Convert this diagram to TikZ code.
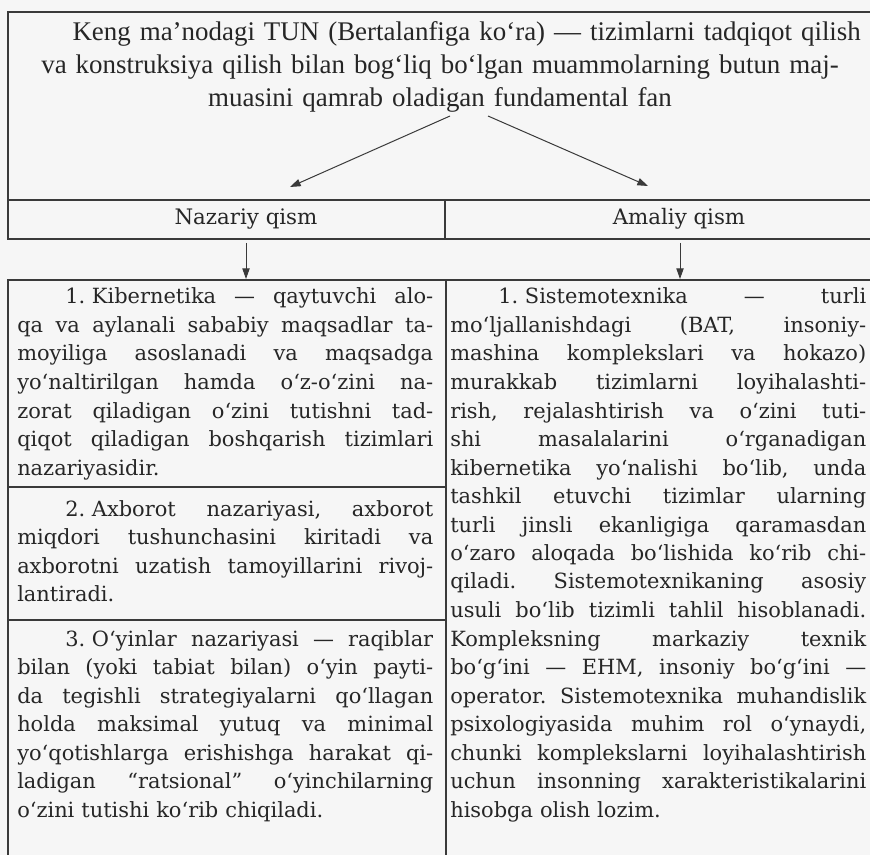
\documentclass[tikz,border=0pt]{standalone}
\usepackage{fontspec}
\setmainfont{DejaVu Serif}
\newfontfamily\topfont{Liberation Serif}
\usetikzlibrary{arrows.meta}
\definecolor{ink}{HTML}{262626}
\definecolor{rulec}{HTML}{3A3A3A}
\definecolor{bg}{HTML}{F6F6F6}
\newdimen\colw
\colw=312pt
\newcommand\jsp{\frenchspacing\spaceskip=0.3em plus 3em minus 0.1em\relax}
\newcommand\num[1]{#1\kern0.32em}
\newcommand\firstln[1]{\hbox to\colw{\jsp\hskip36pt #1}}
\newcommand\midln[1]{\hbox to\colw{\jsp #1}}
\newcommand\lastln[1]{\hbox to\colw{#1\hfil}}
\newcommand\stack[1]{\vtop{#1}}
\tikzset{
  body/.style={anchor=base west, inner sep=0pt, text width=312pt, text=ink,
    font=\fontsize{15.7}{21.375}\selectfont},
  lbl/.style={inner sep=0pt, text=ink, font=\fontsize{16}{19}\selectfont},
  toptext/.style={anchor=base, inner sep=0pt, text width=640pt, align=center, text=ink,
    font=\topfont\fontsize{20.2}{24.75}\selectfont},
  frame/.style={draw=rulec, line width=0.9pt},
  arr/.style={draw=rulec, line width=0.75pt, -{Triangle[length=8pt,width=5.5pt]}},
}
\begin{document}
\begin{tikzpicture}[x=0.75pt,y=-0.75pt]
\useasboundingbox[fill=bg] (0,0) rectangle (870,855);
% frames
\draw[frame] (875,12) -- (8,12) -- (8,239) -- (875,239);
\draw[frame] (8,200) -- (875,200);
\draw[frame] (445,200) -- (445,239);
\draw[frame] (875,280) -- (8,280) -- (8,860);
\draw[frame] (446,280) -- (446,860);
\draw[frame] (8,487) -- (446,487);
\draw[frame] (8,620) -- (446,620);
% top text
\node[toptext] (tun) at (440,41) {\hspace*{40pt}Keng ma’nodagi TUN (Bertalanfiga ko‘ra) — tizimlarni tadqiqot qilish\\
va konstruksiya qilish bilan bog‘liq bo‘lgan muammolarning butun maj-\\
muasini qamrab oladigan fundamental fan};
% row labels
\node[lbl] (naz) at (246,219) {Nazariy qism};
\node[lbl] (ama) at (679,219) {Amaliy qism};
% arrows
\coordinate (fromL) at (450,116);
\coordinate (toL) at (290,187);
\coordinate (fromR) at (488,116);
\coordinate (toR) at (648,186);
\draw[arr] (fromL) -- (toL);
\draw[arr] (fromR) -- (toR);
\coordinate (nazb) at (246,243);
\coordinate (nazt) at (246,279);
\coordinate (amab) at (680,243);
\coordinate (amat) at (680,279);
\draw[arr] (nazb) -- (nazt);
\draw[arr] (amab) -- (amat);
% left column
\node[body] (kib) at (17,304) {\stack{%
\firstln{\num{1.}Kibernetika — qaytuvchi alo-}%
\midln{qa va aylanali sababiy maqsadlar ta-}%
\midln{moyiliga asoslanadi va maqsadga}%
\midln{yo‘naltirilgan hamda o‘z-o‘zini na-}%
\midln{zorat qiladigan o‘zini tutishni tad-}%
\midln{qiqot qiladigan boshqarish tizimlari}%
\lastln{nazariyasidir.}}};
\node[body] (axb) at (17,516) {\stack{%
\firstln{\num{2.}Axborot nazariyasi, axborot}%
\midln{miqdori tushunchasini kiritadi va}%
\midln{axborotni uzatish tamoyillarini rivoj-}%
\lastln{lantiradi.}}};
\node[body] (oyin) at (17,646) {\stack{%
\firstln{\num{3.}O‘yinlar nazariyasi — raqiblar}%
\midln{bilan (yoki tabiat bilan) o‘yin payti-}%
\midln{da tegishli strategiyalarni qo‘llagan}%
\midln{holda maksimal yutuq va minimal}%
\midln{yo‘qotishlarga erishishga harakat qi-}%
\midln{ladigan “ratsional” o‘yinchilarning}%
\lastln{o‘zini tutishi ko‘rib chiqiladi.}}};
% right column
\node[body] (sis) at (450,304) {\stack{%
\firstln{\num{1.}Sistemotexnika — turli}%
\midln{mo‘ljallanishdagi (BAT, insoniy-}%
\midln{mashina komplekslari va hokazo)}%
\midln{murakkab tizimlarni loyihalashti-}%
\midln{rish, rejalashtirish va o‘zini tuti-}%
\midln{shi masalalarini o‘rganadigan}%
\midln{kibernetika yo‘nalishi bo‘lib, unda}%
\midln{tashkil etuvchi tizimlar ularning}%
\midln{turli jinsli ekanligiga qaramasdan}%
\midln{o‘zaro aloqada bo‘lishida ko‘rib chi-}%
\midln{qiladi. Sistemotexnikaning asosiy}%
\midln{usuli bo‘lib tizimli tahlil hisoblanadi.}%
\midln{Kompleksning markaziy texnik}%
\midln{bo‘g‘ini — EHM, insoniy bo‘g‘ini —}%
\midln{operator. Sistemotexnika muhandislik}%
\midln{psixologiyasida muhim rol o‘ynaydi,}%
\midln{chunki komplekslarni loyihalashtirish}%
\midln{uchun insonning xarakteristikalarini}%
\lastln{hisobga olish lozim.}}};
\end{tikzpicture}
\end{document}
